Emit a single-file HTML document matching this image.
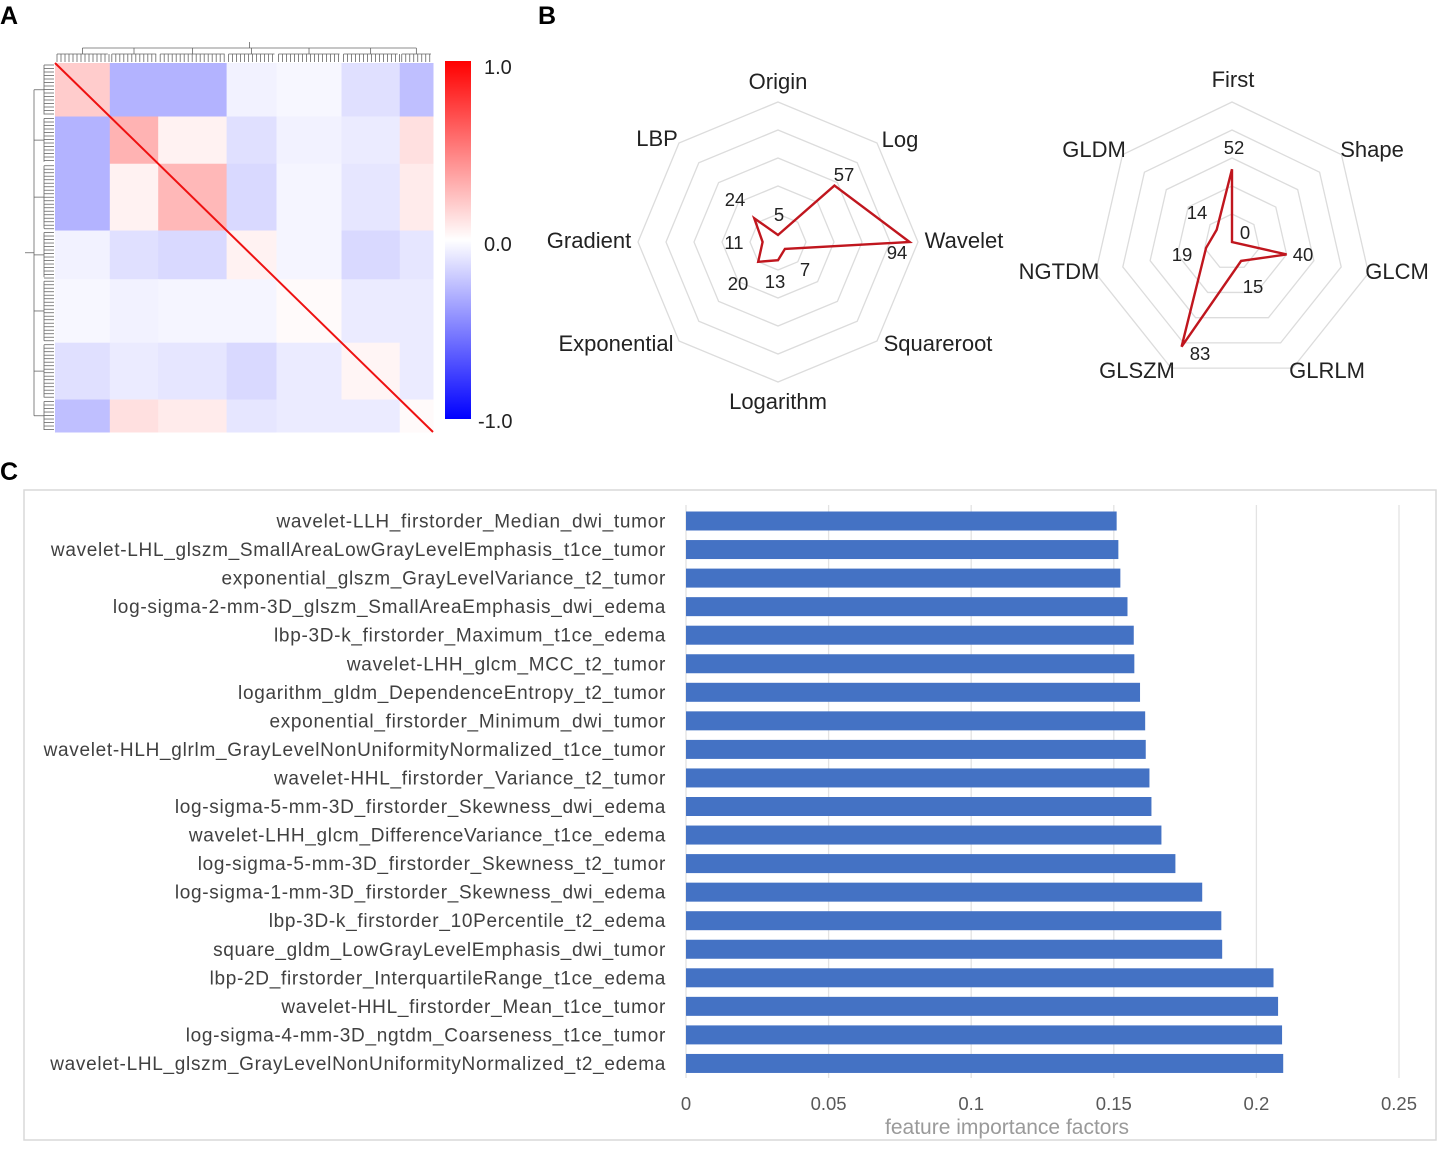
<!DOCTYPE html>
<html><head><meta charset="utf-8">
<style>
html,body{margin:0;padding:0;background:#fff;}
body{width:1438px;height:1146px;overflow:hidden;font-family:"Liberation Sans",sans-serif;}
svg text{font-family:"Liberation Sans",sans-serif;}
</style></head>
<body>
<svg id="root" width="1438" height="1146" viewBox="0 0 1438 1146" xmlns="http://www.w3.org/2000/svg">
  <text x="0" y="24" font-size="25" font-weight="bold" fill="#000">A</text>
  <text x="538" y="24" font-size="25" font-weight="bold" fill="#000">B</text>
  <text x="0" y="480" font-size="25" font-weight="bold" fill="#000">C</text>

  <g id="heatmap"></g>
  <g id="dendro"></g>
  <defs>
    <linearGradient id="cbar" x1="0" y1="0" x2="0" y2="1">
      <stop offset="0" stop-color="#ff0000"/>
      <stop offset="0.5" stop-color="#ffffff"/>
      <stop offset="1" stop-color="#0000ff"/>
    </linearGradient>
  </defs>
  <rect x="445" y="61" width="26" height="358" fill="url(#cbar)"/>
  <text x="484" y="74" font-size="20" fill="#222">1.0</text>
  <text x="484" y="251" font-size="20" fill="#222">0.0</text>
  <text x="478" y="428" font-size="20" fill="#222">-1.0</text>

  <g id="radar1"></g>
  <g id="radar2"></g>

  <rect x="24" y="490" width="1412" height="650" fill="none" stroke="#d9d9d9" stroke-width="1.5"/>
  <g id="bars"></g>
  <text x="1007" y="1134" font-size="21" fill="#9a9a9a" text-anchor="middle">feature importance factors</text>
</svg>
<script>
// ---------- Heatmap data (coarse cluster blocks) ----------
const hmGroupBounds = [0, 0.145, 0.273, 0.454, 0.586, 0.758, 0.912, 1];
const hmBlockValues = [
  [ 0.20,-0.30,-0.30,-0.05,-0.03,-0.12,-0.25],
  [-0.30, 0.30, 0.05,-0.12,-0.05,-0.08, 0.12],
  [-0.30, 0.05, 0.28,-0.15,-0.04,-0.10, 0.08],
  [-0.05,-0.12,-0.15, 0.05,-0.04,-0.15,-0.10],
  [-0.03,-0.05,-0.04,-0.04, 0.02,-0.08,-0.08],
  [-0.12,-0.08,-0.10,-0.15,-0.08, 0.04,-0.08],
  [-0.25, 0.12, 0.08,-0.10,-0.08,-0.08, 0.02]
];
// ---------- Radar data ----------
const radar1Axes = ["Origin","Log","Wavelet","Squareroot","Logarithm","Exponential","Gradient","LBP"];
const radar1Values = [5,57,94,7,13,20,11,24];
const radar2Axes = ["First","Shape","GLCM","GLRLM","GLSZM","NGTDM","GLDM"];
const radar2Values = [52,0,40,15,83,19,14];
// ---------- Bar data ----------
const barCategories = [
 "wavelet-LLH_firstorder_Median_dwi_tumor",
 "wavelet-LHL_glszm_SmallAreaLowGrayLevelEmphasis_t1ce_tumor",
 "exponential_glszm_GrayLevelVariance_t2_tumor",
 "log-sigma-2-mm-3D_glszm_SmallAreaEmphasis_dwi_edema",
 "lbp-3D-k_firstorder_Maximum_t1ce_edema",
 "wavelet-LHH_glcm_MCC_t2_tumor",
 "logarithm_gldm_DependenceEntropy_t2_tumor",
 "exponential_firstorder_Minimum_dwi_tumor",
 "wavelet-HLH_glrlm_GrayLevelNonUniformityNormalized_t1ce_tumor",
 "wavelet-HHL_firstorder_Variance_t2_tumor",
 "log-sigma-5-mm-3D_firstorder_Skewness_dwi_edema",
 "wavelet-LHH_glcm_DifferenceVariance_t1ce_edema",
 "log-sigma-5-mm-3D_firstorder_Skewness_t2_tumor",
 "log-sigma-1-mm-3D_firstorder_Skewness_dwi_edema",
 "lbp-3D-k_firstorder_10Percentile_t2_edema",
 "square_gldm_LowGrayLevelEmphasis_dwi_tumor",
 "lbp-2D_firstorder_InterquartileRange_t1ce_edema",
 "wavelet-HHL_firstorder_Mean_t1ce_tumor",
 "log-sigma-4-mm-3D_ngtdm_Coarseness_t1ce_tumor",
 "wavelet-LHL_glszm_GrayLevelNonUniformityNormalized_t2_edema"
];
const barValues = [0.151,0.1516,0.1523,0.1548,0.157,0.1572,0.1592,0.161,0.1612,0.1625,0.1632,0.1667,0.1716,0.181,0.1877,0.188,0.206,0.2076,0.209,0.2094];
const xTicks = [0,0.05,0.1,0.15,0.2,0.25];
const xTickLabels = ["0","0.05","0.1","0.15","0.2","0.25"];

const NS = "http://www.w3.org/2000/svg";
function mk(tag, attrs, parent){
  const e = document.createElementNS(NS, tag);
  for (const k in attrs) e.setAttribute(k, attrs[k]);
  parent.appendChild(e); return e;
}
function colorFor(v){
  const t = Math.min(1, Math.abs(v));
  const c = Math.round(255*(1-t));
  return v >= 0 ? `rgb(255,${c},${c})` : `rgb(${c},${c},255)`;
}

// ---------- Heatmap ----------
(function(){
  const g = document.getElementById('heatmap');
  const X0=55, Y0=63, W=378, H=369;
  const sx = f => X0 + f*W, sy = f => Y0 + f*H;
  mk('rect',{x:X0,y:Y0,width:W,height:H,fill:'#fff'},g);
  for (let i=0;i<hmBlockValues.length;i++){
    for (let j=0;j<hmBlockValues[i].length;j++){
      const r = mk('rect',{x:sx(hmGroupBounds[j]),y:sy(hmGroupBounds[i]),
        width:sx(hmGroupBounds[j+1])-sx(hmGroupBounds[j])+0.5,
        height:sy(hmGroupBounds[i+1])-sy(hmGroupBounds[i])+0.5,
        fill:colorFor(hmBlockValues[i][j])},g);
      
      
    }
  }
  const d = mk('line',{x1:sx(0),y1:sy(0),x2:sx(1),y2:sy(1),stroke:'#ee1111','stroke-width':2},g);
  
  
})();

// ---------- Dendrograms ----------
(function(){
  const g = document.getElementById('dendro');
  const X0=55, Y0=63, W=378, H=369;
  const st = {stroke:'#666','stroke-width':0.8,fill:'none'};
  const n = hmGroupBounds.length-1;
  let tops=[];
  for (let k=0;k<n;k++){
    const a = X0+hmGroupBounds[k]*W, b = X0+hmGroupBounds[k+1]*W;
    for (let x=a+2;x<b;x+=4) mk('line',Object.assign({x1:x,y1:62,x2:x,y2:54},st),g);
    mk('line',Object.assign({x1:a+2,y1:54,x2:b-2,y2:54},st),g);
    const m=(a+b)/2; tops.push(m);
    mk('line',Object.assign({x1:m,y1:54,x2:m,y2:48},st),g);
  }
  mk('line',Object.assign({x1:tops[0],y1:48,x2:tops[n-1],y2:48},st),g);
  mk('line',Object.assign({x1:(tops[0]+tops[n-1])/2,y1:48,x2:(tops[0]+tops[n-1])/2,y2:42},st),g);
  let lefts=[];
  for (let k=0;k<n;k++){
    const a = Y0+hmGroupBounds[k]*H, b = Y0+hmGroupBounds[k+1]*H;
    for (let y=a+2;y<b;y+=3.5) mk('line',Object.assign({x1:54,y1:y,x2:44,y2:y},st),g);
    mk('line',Object.assign({x1:44,y1:a+2,x2:44,y2:b-2},st),g);
    const m=(a+b)/2; lefts.push(m);
    mk('line',Object.assign({x1:44,y1:m,x2:34,y2:m},st),g);
  }
  mk('line',Object.assign({x1:34,y1:lefts[0],x2:34,y2:lefts[n-1]},st),g);
  mk('line',Object.assign({x1:34,y1:(lefts[0]+lefts[n-1])/2,x2:25,y2:(lefts[0]+lefts[n-1])/2},st),g);
})();

// ---------- Radar ----------
function radar(gid, axes, vals, cx, cy, R, labelPos, valuePos){
  const g = document.getElementById(gid);
  const n = axes.length;
  const ang = i => (-90 + 360*i/n)*Math.PI/180;
  const pt = (i,r) => [cx + r*Math.cos(ang(i)), cy + r*Math.sin(ang(i))];
  for (let k=1;k<=5;k++){
    const r = R*k/5;
    const pts = axes.map((_,i)=>pt(i,r).join(',')).join(' ');
    const ring = mk('polygon',{points:pts,fill:'none',stroke:'#dcdcdc','stroke-width':1.3},g);
    
    
  }
  const dp = vals.map((v,i)=>pt(i,R*v/100).join(',')).join(' ');
  const poly = mk('polygon',{points:dp,fill:'none',stroke:'#c0161e','stroke-width':2.4,'stroke-linejoin':'miter'},g);
  
  
  axes.forEach((a,i)=>{
    const t = mk('text',{x:labelPos[i][0],y:labelPos[i][1],'font-size':22,fill:'#222','text-anchor':'middle'},g);
    t.textContent = a;
    
    
    const v = mk('text',{x:valuePos[i][0],y:valuePos[i][1],'font-size':18.5,fill:'#222','text-anchor':'middle'},g);
    v.textContent = vals[i];
    
    
  });
}
radar('radar1', radar1Axes, radar1Values, 778, 242, 140,
  [[778,89],[900,147],[964,248],[938,351],[778,409],[616,351],[589,248],[657,146]],
  [[779,221],[844,181],[897,259],[805,276],[775,288],[738,290],[734,249],[735,206]]);
radar('radar2', radar2Axes, radar2Values, 1232, 242, 140,
  [[1233,87],[1372,157],[1397,279],[1327,378],[1137,378],[1059,279],[1094,157]],
  [[1234,154],[1245,239],[1303,261],[1253,293],[1200,360],[1182,261],[1197,219]]);

// ---------- Bar chart ----------
(function(){
  const g = document.getElementById('bars');
  const X0 = 686, PX = 2852;
  const xs = v => X0 + v*PX;
  const yc = i => 521 + i*28.55;
  xTicks.forEach((t,i)=>{
    if (i>0){
      const l = mk('line',{x1:xs(t),y1:505,x2:xs(t),y2:1078,stroke:'#e3e3e3','stroke-width':1.3},g);
      
      
    }
    const tl = mk('text',{x:xs(t),y:1110,'font-size':18.5,fill:'#595959','text-anchor':'middle'},g);
    tl.textContent = xTickLabels[i];
    
    
  });
  const ax = mk('line',{x1:X0,y1:505,x2:X0,y2:1078,stroke:'#d9d9d9','stroke-width':1},g);
  
  
  barCategories.forEach((c,i)=>{
    const r = mk('rect',{x:X0,y:yc(i)-9.5,width:xs(barValues[i])-X0,height:19,fill:'#4472c4'},g);
    
    
    const t = mk('text',{x:666,y:yc(i)+6.5,'font-size':19,'letter-spacing':0.7,fill:'#404040','text-anchor':'end'},g);
    t.textContent = c;
    
    
  });
})();
</script>
</body></html>
